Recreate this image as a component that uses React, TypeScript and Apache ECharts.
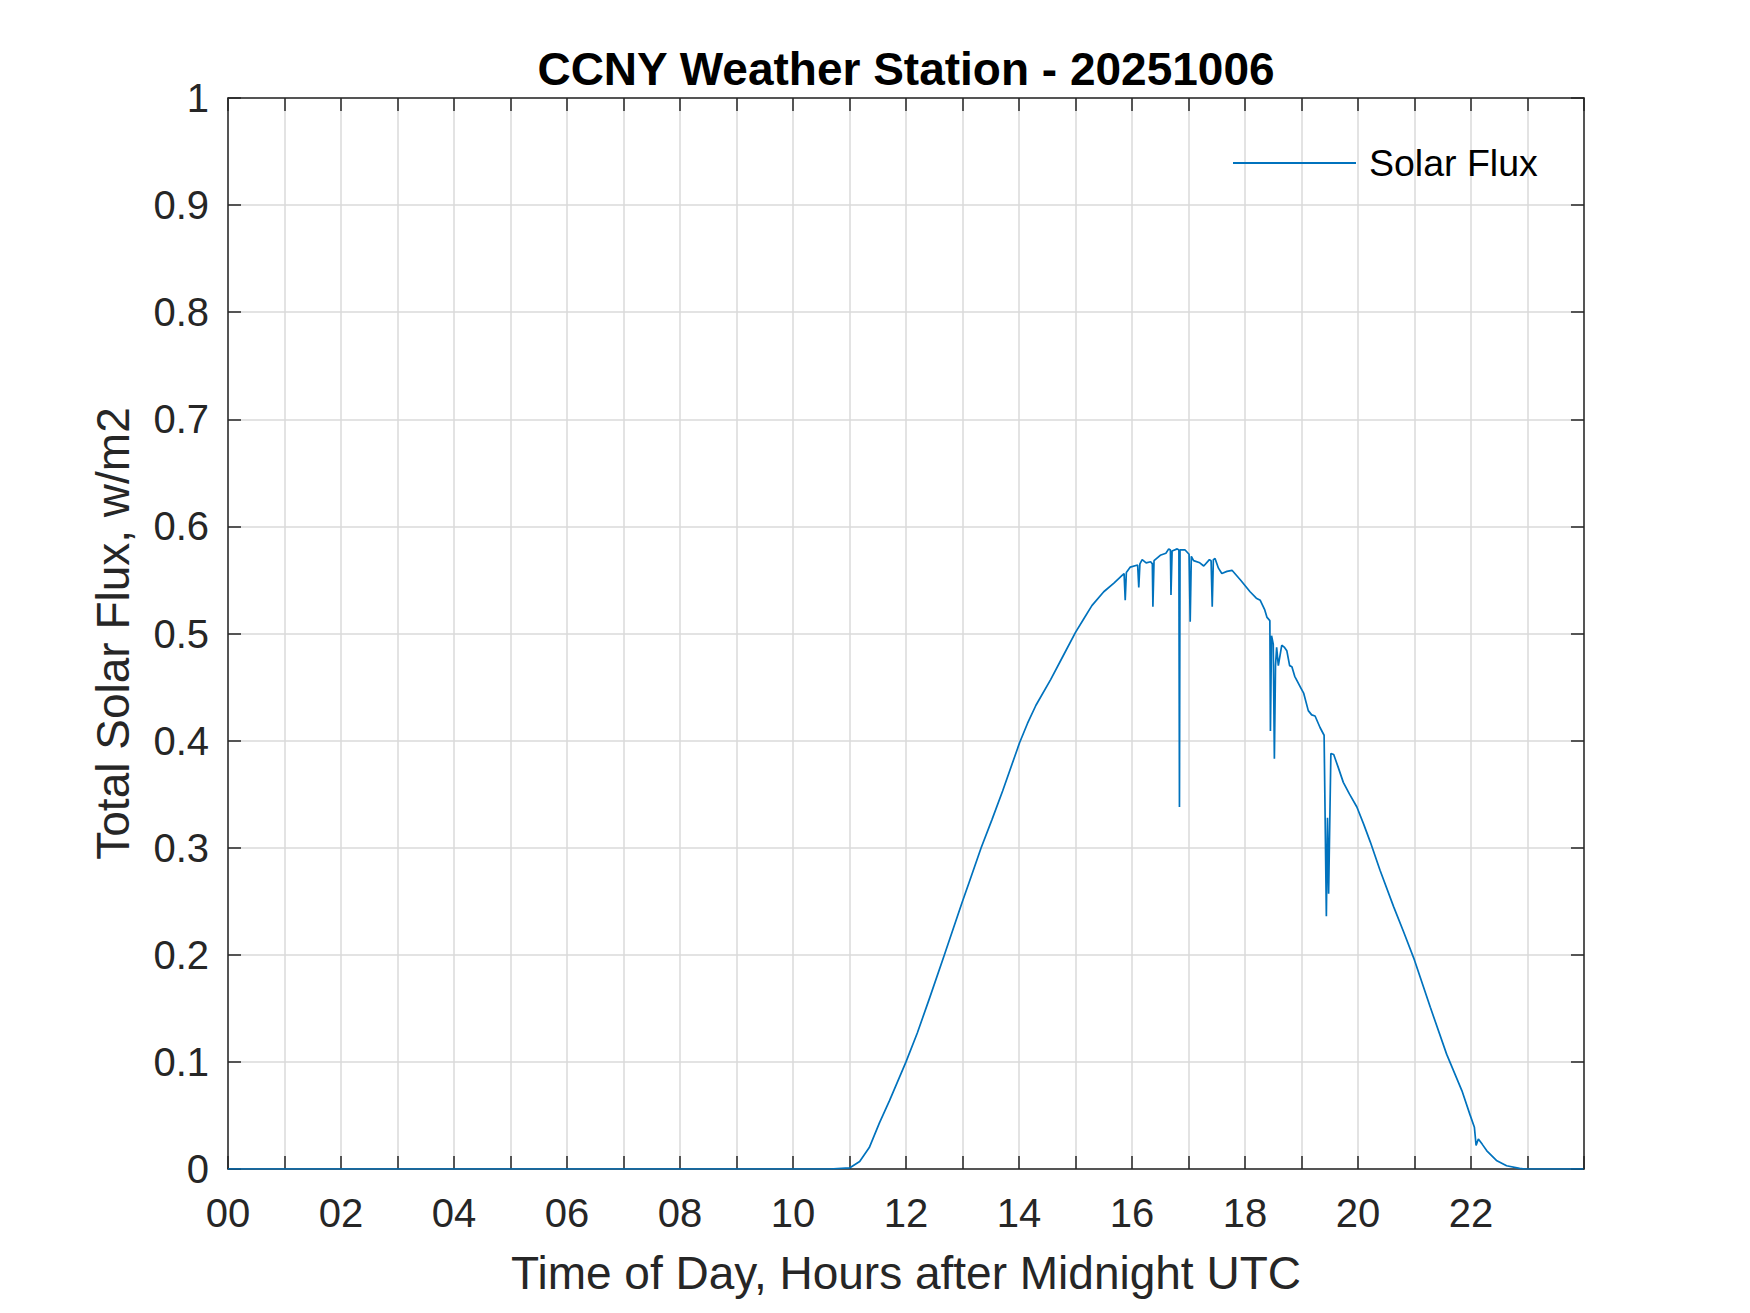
import React, { useEffect, useRef } from "react";
import * as echarts from "echarts";

const titleText = "CCNY Weather Station - 20251006";
const xAxisName = "Time of Day, Hours after Midnight UTC";
const yAxisName = "Total Solar Flux, w/m2";
const seriesName = "Solar Flux";

const hours = [
  0, 10.65, 11.0, 11.18, 11.35, 11.53, 11.71, 12.0, 12.2, 12.42, 12.68, 13.0, 13.12, 13.33, 13.52, 13.71, 14.01,
  14.15, 14.3, 14.56, 14.78, 15.0, 15.15, 15.29, 15.5, 15.68, 15.82, 15.86, 15.88, 15.9, 15.97, 16.1, 16.12, 16.14,
  16.18, 16.25, 16.33, 16.36, 16.37, 16.39, 16.5, 16.6, 16.65, 16.68, 16.69, 16.71, 16.8, 16.83, 16.84,
  16.85, 16.94, 17.01, 17.03, 17.05, 17.09, 17.2, 17.27, 17.37, 17.4, 17.42, 17.44, 17.47, 17.53, 17.59,
  17.68, 17.77, 17.92, 18.09, 18.2, 18.27, 18.35, 18.39, 18.44, 18.45, 18.47, 18.5, 18.52, 18.54, 18.56,
  18.59, 18.65, 18.7, 18.74, 18.79, 18.83, 18.88, 18.92, 18.98, 19.04, 19.12, 19.18, 19.24, 19.33, 19.4,
  19.44, 19.46, 19.48, 19.52, 19.57, 19.65, 19.74, 19.85, 19.98, 20.1, 20.22, 20.39, 20.63, 20.81, 21.0,
  21.28, 21.57, 21.84, 21.98, 22.06, 22.09, 22.13, 22.2, 22.28, 22.45, 22.63, 22.86, 22.95, 23.99,
];

const flux = [
  0, 0, 0.001, 0.007, 0.02, 0.043, 0.064, 0.1, 0.127, 0.16, 0.2, 0.25, 0.268, 0.3, 0.326, 0.353, 0.398,
  0.416, 0.433, 0.457, 0.479, 0.501, 0.514, 0.526, 0.539, 0.547, 0.554, 0.556, 0.531, 0.557, 0.562, 0.564, 0.543, 0.565,
  0.569, 0.566, 0.567, 0.565, 0.525, 0.568, 0.573, 0.575, 0.579, 0.578, 0.536, 0.577, 0.579, 0.578, 0.338,
  0.578, 0.578, 0.574, 0.511, 0.572, 0.568, 0.566, 0.563, 0.569, 0.568, 0.525, 0.569, 0.57, 0.561, 0.556,
  0.558, 0.559, 0.55, 0.539, 0.533, 0.531, 0.522, 0.515, 0.512, 0.409, 0.498, 0.49, 0.383, 0.47, 0.487,
  0.47, 0.489, 0.487, 0.484, 0.47, 0.469, 0.46, 0.456, 0.45, 0.444, 0.428, 0.424, 0.423, 0.412, 0.405,
  0.236, 0.328, 0.257, 0.388, 0.387, 0.375, 0.361, 0.35, 0.338, 0.322, 0.305, 0.279, 0.245, 0.221, 0.195,
  0.151, 0.107, 0.073, 0.051, 0.039, 0.022, 0.028, 0.023, 0.017, 0.008, 0.003, 0.0006, 0, 0,
];

const FONT = "'Liberation Sans', Arial, Helvetica, sans-serif";
const AXIS_COLOR = "#262626";
const GRID_COLOR = "#dadada";
const LINE_COLOR = "#0072BD";

export default function App() {
  const ref = useRef<HTMLDivElement>(null);

  useEffect(() => {
    document.body.style.margin = "0";
    if (!ref.current) return;
    const chart = echarts.init(ref.current, null, { renderer: "svg" });
    const data = hours.map((h, i) => [h, flux[i]]);

    const tickStyle = { show: true, inside: true, length: 13, lineStyle: { color: AXIS_COLOR, width: 1.5 } };
    const axisLine = { show: true, onZero: false, lineStyle: { color: AXIS_COLOR, width: 1.5 } };

    chart.setOption({
      animation: false,
      backgroundColor: "#ffffff",
      title: {
        text: titleText,
        left: 901,
        top: 41,
        textAlign: "center",
        textStyle: { fontFamily: FONT, fontSize: 46, fontWeight: "bold", color: "#000000" },
      },
      legend: {
        left: 1228,
        top: 139,
        itemWidth: 123,
        itemHeight: 2,
        icon: "rect",
        data: [seriesName],
        textStyle: { fontFamily: FONT, fontSize: 37.5, color: "#000000", padding: [0, 0, 0, 8] },
      },
      grid: { left: 228, top: 98, width: 1356, height: 1071, containLabel: false },
      xAxis: [
        {
          type: "value",
          min: 0,
          max: 24,
          interval: 1,
          position: "bottom",
          name: xAxisName,
          nameLocation: "middle",
          nameGap: 81,
          nameTextStyle: { fontFamily: FONT, fontSize: 46, color: AXIS_COLOR },
          axisLine,
          axisTick: tickStyle,
          axisLabel: {
            fontFamily: FONT,
            fontSize: 40,
            color: AXIS_COLOR,
            margin: 24,
            formatter: (v: number) => (v % 2 === 0 && v < 24 ? String(v).padStart(2, "0") : ""),
          },
          splitLine: { show: true, lineStyle: { color: GRID_COLOR, width: 1.5 } },
        },
        {
          type: "value",
          min: 0,
          max: 24,
          interval: 1,
          position: "top",
          axisLine,
          axisTick: tickStyle,
          axisLabel: { show: false },
          splitLine: { show: false },
        },
      ],
      yAxis: [
        {
          type: "value",
          min: 0,
          max: 1,
          interval: 0.1,
          position: "left",
          name: yAxisName,
          nameLocation: "middle",
          nameGap: 92,
          nameTextStyle: { fontFamily: FONT, fontSize: 46, color: AXIS_COLOR },
          axisLine,
          axisTick: tickStyle,
          axisLabel: {
            fontFamily: FONT,
            fontSize: 40,
            color: AXIS_COLOR,
            margin: 19,
            formatter: (v: number) => String(Number(v.toFixed(1))),
          },
          splitLine: { show: true, lineStyle: { color: GRID_COLOR, width: 1.5 } },
        },
        {
          type: "value",
          min: 0,
          max: 1,
          interval: 0.1,
          position: "right",
          axisLine,
          axisTick: tickStyle,
          axisLabel: { show: false },
          splitLine: { show: false },
        },
      ],
      series: [
        {
          name: seriesName,
          type: "line",
          xAxisIndex: 0,
          yAxisIndex: 0,
          data,
          symbol: "none",
          lineStyle: { color: LINE_COLOR, width: 1.7 },
          itemStyle: { color: LINE_COLOR },
          z: 5,
        },
      ],
    });

    return () => chart.dispose();
  }, []);

  return <div ref={ref} style={{ width: 1750, height: 1313, position: "absolute", left: 0, top: 0 }} />;
}
